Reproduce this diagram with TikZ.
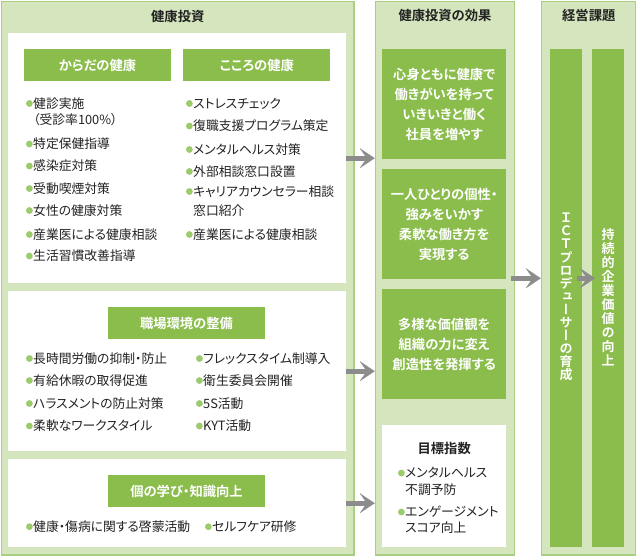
\documentclass[tikz,border=0pt]{standalone}
\usepackage{fontspec}
\setmainfont{Noto Sans CJK JP}[RawFeature=+palt,BoldFont={Noto Sans CJK JP Bold}]
\newfontfamily\vjp{Noto Sans CJK JP}[RawFeature=+vert,BoldFont={Noto Sans CJK JP Bold}]
\usetikzlibrary{arrows.meta,positioning}
\definecolor{pale}{HTML}{D5E6BE}
\definecolor{edge}{HTML}{A8CF82}
\definecolor{leaf}{HTML}{8BBD4C}
\definecolor{dotc}{HTML}{9CCB6C}
\definecolor{ink}{HTML}{222222}
\definecolor{grayarr}{HTML}{8C8C8C}
\newcommand\fsN{\fontsize{12.8}{16}\selectfont}
\newcommand\fsB{\fontsize{13.3}{20}\selectfont\bfseries}
\tikzset{
  panel/.style={draw=edge,fill=pale,line width=1.5pt,anchor=north west,inner sep=0pt},
  sheet/.style={fill=white,anchor=north west,inner sep=0pt},
  head/.style={fill=leaf,text=white,font=\fsB,minimum width=147pt,minimum height=32pt,inner sep=0pt},
  ttl/.style={font=\fsB,text=ink,inner sep=0pt},
  txt/.style={anchor=west,font=\fsN,text=ink,inner sep=0pt},
  dot/.style={circle,fill=dotc,minimum size=6.8pt,inner sep=0pt},
  itm/.style={txt,label distance=2.2pt,label={[dot]left:{}}},
  ebox/.style={fill=leaf,text=white,font=\fsB,align=center,anchor=north west,minimum width=124pt,minimum height=110pt,inner sep=0pt},
  bar/.style={fill=leaf,anchor=north west,minimum width=32pt,minimum height=498pt,inner sep=0pt},
  vtext/.style={text=white,inner sep=0pt,align=center},
  garr/.style={draw=grayarr,line width=5pt,-{Stealth[length=15pt,width=20pt,inset=7pt,line width=.1pt]}},
}
\begin{document}
\begin{tikzpicture}[x=1pt,y=-1pt]
\useasboundingbox (0,0) rectangle (636,555);
% three columns
\node[panel,minimum width=352.5pt,minimum height=553.5pt] (invest) at (0.75,0.75) {};
\node[panel,minimum width=139pt,minimum height=553.5pt] (effect) at (374.75,0.75) {};
\node[panel,minimum width=94.5pt,minimum height=553.5pt] (issue) at (540.75,0.75) {};
\node[ttl] (investT) at (invest.north |- 0,16) {健康投資};
\node[ttl] (effectT) at (effect.north |- 0,15.5) {健康投資の効果};
\node[ttl] (issueT) at (issue.north |- 0,15.5) {経営課題};

% health investment
\node[sheet,minimum width=338pt,minimum height=250pt] (body) at (8,33) {};
\node[sheet,minimum width=338pt,minimum height=160pt] (place) at (8,291) {};
\node[sheet,minimum width=338pt,minimum height=88pt] (learn) at (8,459) {};

\node[head] (karaH) at (97.5,65) {からだの健康};
\node[head,right=12pt of karaH] (kokoH) {こころの健康};
\node[itm] (k1) at (33,103.5) {健診実施};
\node[txt] (k1b) at (33,120) {（受診率100\%）};
\node[itm] (k2) at (33,144) {特定保健指導};
\node[itm] (k3) at (33,166) {感染症対策};
\node[itm] (k4) at (33,188.5) {受動喫煙対策};
\node[itm] (k5) at (33,210.5) {女性の健康対策};
\node[itm] (k6) at (33,234.5) {産業医による健康相談};
\node[itm] (k7) at (33,256) {生活習慣改善指導};
\node[itm] (c1) at (193,103.5) {ストレスチェック};
\node[itm] (c2) at (193,126) {復職支援プログラム策定};
\node[itm] (c3) at (193,149.5) {メンタルヘルス対策};
\node[itm] (c4) at (193,171.5) {外部相談窓口設置};
\node[itm] (c5) at (193,191.5) {キャリアカウンセラー相談};
\node[txt] (c5b) at (193,211) {窓口紹介};
\node[itm] (c6) at (193,234.5) {産業医による健康相談};

\node[head,minimum width=157pt] (placeH) at (186.5,323) {職場環境の整備};
\node[itm] (w1) at (33,358.5) {長時間労働の抑制・防止};
\node[itm] (w2) at (33,380.5) {有給休暇の取得促進};
\node[itm] (w3) at (33,403.5) {ハラスメントの防止対策};
\node[itm] (w4) at (33,426) {柔軟なワークスタイル};
\node[itm] (w5) at (203,358.5) {フレックスタイム制導入};
\node[itm] (w6) at (203,380.5) {衛生委員会開催};
\node[itm] (w7) at (203,403.5) {5S活動};
\node[itm] (w8) at (203,426) {KYT活動};

\node[head,minimum width=157pt] (learnH) at (186.5,491) {個の学び・知識向上};
\node[itm] (l1) at (33,526.7) {健康・傷病に関する啓蒙活動};
\node[itm] (l2) at (212,526.7) {セルフケア研修};

% effects
\node[ebox] (eff1) at (382,49) {心身ともに健康で\\働きがいを持って\\いきいきと働く\\社員を増やす};
\node[ebox] (eff2) at (382,169) {一人ひとりの個性・\\強みをいかす\\柔軟な働き方を\\実現する};
\node[ebox] (eff3) at (382,289) {多様な価値観を\\組織の力に変え\\創造性を発揮する};
\node[sheet,minimum width=124pt,minimum height=122pt] (goal) at (382,425) {};
\node[ttl] (goalT) at (goal.north |- 0,448) {目標指数};
\node[itm] (g1) at (405,473) {メンタルヘルス};
\node[txt] (g1b) at (405,490) {不調予防};
\node[itm] (g2) at (405,512) {エンゲージメント};
\node[txt] (g2b) at (405,528) {スコア向上};

% management issues
\node[bar] (ictbar) at (550,49) {};
\node[bar] (valbar) at (592,49) {};
\node[vtext,font=\fontsize{13}{13.1}\vjp\bfseries] (ictT) at ([yshift=1pt]ictbar.center)
  {Ｉ\\Ｃ\\Ｔ\\プ\\ロ\\デ\\ュ\\ー\\サ\\ー\\の\\育\\成};
\node[vtext,font=\fontsize{13}{13.9}\vjp\bfseries] (valT) at ([yshift=1pt]valbar.center)
  {持\\続\\的\\企\\業\\価\\値\\の\\向\\上};

% arrows
\draw[garr] (body.east) -- (body.east -| effect.west);
\draw[garr] (place.east) -- (place.east -| effect.west);
\draw[garr] (learn.east) -- (learn.east -| effect.west);
\draw[garr,shorten <=-4pt] (effect.east) -- (issue.west);
\draw[garr,shorten <=-5pt,shorten >=-3pt] (ictbar.east |- effect.east) -- (valbar.west |- effect.east);
\end{tikzpicture}
\end{document}
